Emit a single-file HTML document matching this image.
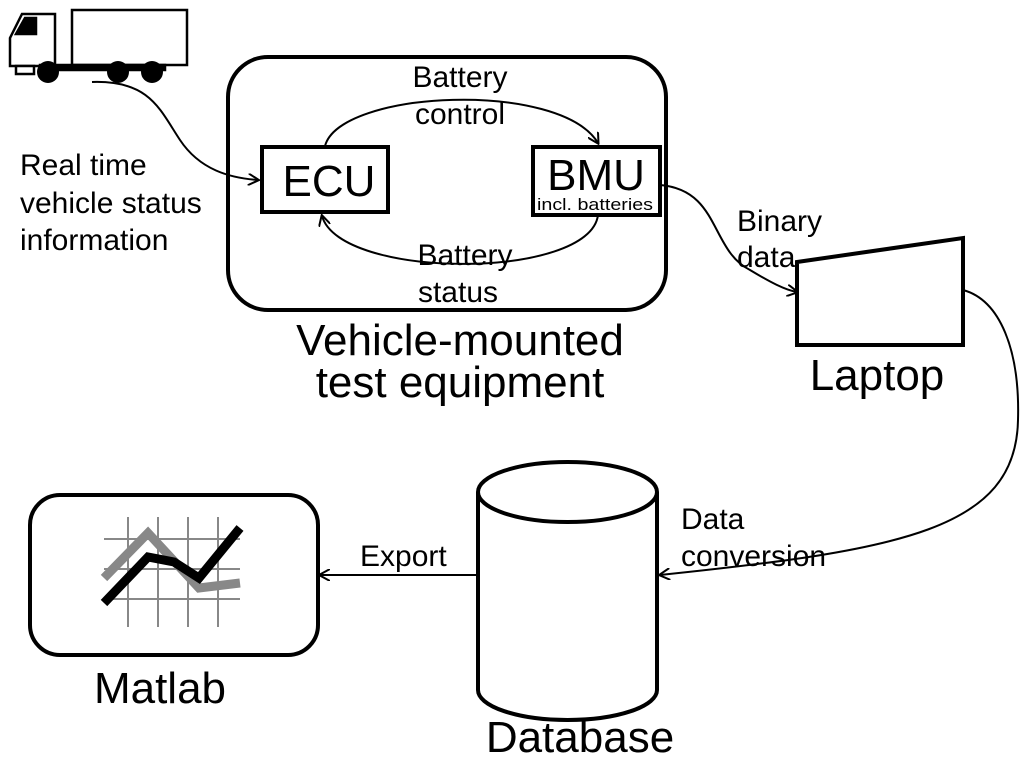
<!DOCTYPE html>
<html><head><style>body{margin:0;background:#fff}svg{display:block}text{font-family:"Liberation Sans",sans-serif;fill:#000}</style></head><body>
<svg width="1024" height="764" viewBox="0 0 1024 764" xmlns="http://www.w3.org/2000/svg">
<defs><marker id="a" markerWidth="12" markerHeight="12" refX="10" refY="6" orient="auto" markerUnits="userSpaceOnUse"><path d="M0,0 L11,6 L0,12" fill="none" stroke="#000" stroke-width="2"/></marker></defs>
<g stroke="#000" stroke-width="2.5" fill="#fff">
<path d="M22,14 L55,14 L55,66 L10,66 L10,38 Z"/>
<path d="M25,18 L36,18 L36,34 L16,34 Z" fill="#000"/>
<rect x="16" y="66" width="18" height="8"/>
<rect x="72" y="10" width="115" height="55"/>
<rect x="40" y="65" width="125" height="5" fill="#000"/>
</g>
<g fill="#000"><circle cx="48" cy="72" r="11"/><circle cx="118" cy="72" r="11"/><circle cx="152" cy="72" r="11"/></g>
<g fill="none" stroke="#000" stroke-width="2">
<path d="M92,82 C150,80 160,110 180,140 C200,170 230,178 258,180" marker-end="url(#a)"/>
<path d="M325,146 C340,90 560,80 598,143" marker-end="url(#a)"/>
<path d="M598,215 C590,280 340,280 322,216" marker-end="url(#a)"/>
<path d="M660,185 C720,190 710,250 750,270 C770,282 785,290 797,292" marker-end="url(#a)"/>
<path d="M963,290 C1000,300 1020,350 1018,420 C1016,530 900,550 660,575" marker-end="url(#a)"/>
<path d="M478,575 L320,575" marker-end="url(#a)"/>
</g>
<rect x="228" y="57" width="438" height="253" rx="40" fill="none" stroke="#000" stroke-width="4"/>
<rect x="262" y="147" width="126" height="65" fill="#fff" stroke="#000" stroke-width="4"/>
<rect x="533" y="147" width="127" height="68" fill="#fff" stroke="#000" stroke-width="4"/>
<polygon points="797,262 963,238 963,345 797,345" fill="#fff" stroke="#000" stroke-width="4"/>
<g stroke="#000" stroke-width="4" fill="#fff">
<path d="M478,492 L478,690 A89.5,30 0 0 0 657,690 L657,492"/>
<ellipse cx="567.5" cy="492" rx="89.5" ry="30"/>
</g>
<rect x="30" y="495" width="288" height="160" rx="30" fill="#fff" stroke="#000" stroke-width="4"/>
<g stroke="#888" stroke-width="2"><line x1="128" y1="517" x2="128" y2="627"/><line x1="158" y1="517" x2="158" y2="627"/><line x1="188" y1="517" x2="188" y2="627"/><line x1="218" y1="517" x2="218" y2="627"/><line x1="104" y1="539" x2="240" y2="539"/><line x1="104" y1="569" x2="240" y2="569"/><line x1="104" y1="599" x2="240" y2="599"/></g>
<polyline points="104,578 148,533 199,588 240,583" fill="none" stroke="#888" stroke-width="9"/>
<polyline points="104,603 148,557 174,562 199,578 240,528" fill="none" stroke="#000" stroke-width="9"/>
<g font-size="30">
<text x="20" y="175">Real time</text><text x="20" y="213">vehicle status</text><text x="20" y="250">information</text>
<text x="460" y="87" text-anchor="middle">Battery</text><text x="460" y="124" text-anchor="middle">control</text>
<text x="465" y="265" text-anchor="middle">Battery</text><text x="458" y="302" text-anchor="middle">status</text>
<text x="737" y="231">Binary</text><text x="737" y="267">data</text>
<text x="681" y="529">Data</text><text x="681" y="566">conversion</text>
<text x="360" y="566">Export</text>
</g>
<g font-size="44" text-anchor="middle">
<text x="329" y="196">ECU</text><text x="596" y="190">BMU</text>
<text x="460" y="355">Vehicle-mounted</text><text x="460" y="397">test equipment</text>
<text x="877" y="390">Laptop</text><text x="580" y="752">Database</text><text x="160" y="703">Matlab</text>
</g>
<text x="537" y="210" font-size="17" textLength="116" lengthAdjust="spacingAndGlyphs">incl. batteries</text>
</svg>
</body></html>
